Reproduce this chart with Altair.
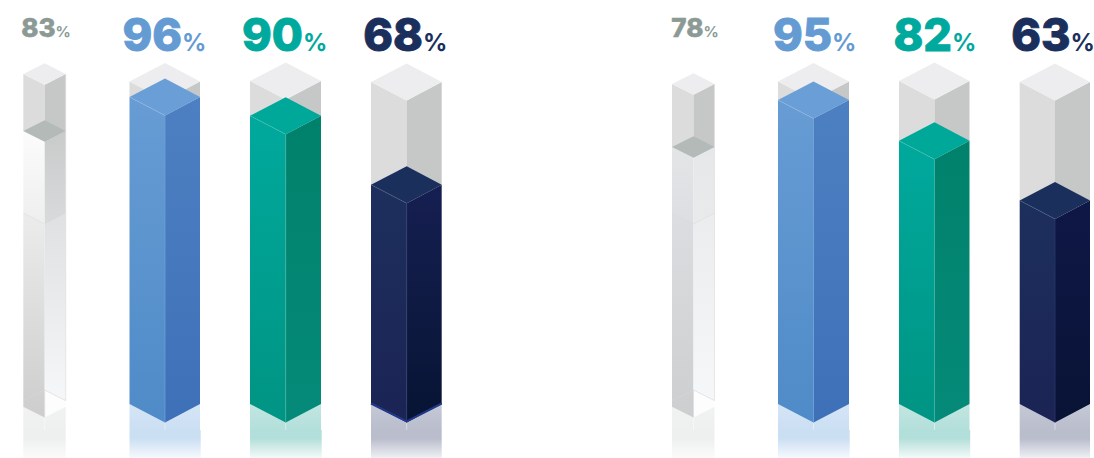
import altair as alt
import pandas as pd

# Percentages shown above each column, left to right.
values = [83, 96, 90, 68, 78, 95, 82, 63]
label_colors = ["#8b9a95", "#659bd3", "#00a99d", "#1b2f5c", "#8b9a95", "#659bd3", "#00a99d", "#1b2f5c"]
series = ["grey", "blue", "teal", "navy", "pale", "blue", "teal", "navy"]
column_left = [23.3, 129.5, 250, 371, 672, 778, 899, 1019.7]
column_mid = [44.7, 165, 285.7, 406.7, 693.5, 813.5, 934.5, 1055]
column_right = [65.7, 200, 321, 441.7, 714.5, 849, 969.5, 1090]
label_joint = [55.5, 182, 303, 423, 703.5, 832, 952, 1070.5]
tube_side_px = [74, 81.5, 81, 82, 84, 81.5, 81, 82]

W, H = 1094, 458
ZERO_PX, PX_PER_PCT = 398.0, 3.136


def units(px):
    return (ZERO_PX - px) / PX_PER_PCT


X = alt.X("x:Q", axis=None, scale=alt.Scale(domain=[0, W], range=[0, W], nice=False, zero=False))
Y = alt.Y("y:Q", axis=None, scale=alt.Scale(domain=[units(H), units(0)], nice=False, zero=False))


def grad(*stops):
    n = len(stops)
    parsed = [s if isinstance(s, tuple) else (i / (n - 1), s) for i, s in enumerate(stops)]
    return alt.Gradient(
        gradient="linear", x1=0, y1=0, x2=0, y2=1,
        stops=[alt.GradientStop(offset=o, color=c) for o, c in parsed],
    )


def poly(points, fill, opacity=1.0):
    df = pd.DataFrame(points, columns=["x", "y", "y2"])
    return (
        alt.Chart(df)
        .mark_area(fill=fill, opacity=opacity, line=False, interpolate="linear")
        .encode(x=X, y=Y, y2="y2:Q")
    )


def stroke(points, color, width=0.7, opacity=1.0):
    df = pd.DataFrame(points, columns=["x", "y"])
    df["order"] = range(len(df))
    return (
        alt.Chart(df)
        .mark_line(color=color, strokeWidth=width, opacity=opacity, interpolate="linear")
        .encode(x=X, y=Y, order="order:Q")
    )


palette = {
    "blue": dict(
        left=grad("#679cd4", "#4f8bc8"), right=grad("#4d80c2", "#3d70b7"), top="#6a9ed6",
        glow_top="#d5e5f6", glow="#cbdff3", fade="#f6f9fd", edge="#9dbfe4", joint="#6f9fd4",
    ),
    "teal": dict(
        left=grad("#00a99d", "#009483"), right=grad("#00816b", "#058a79"), top="#00a89a",
        glow_top="#c3e6e2", glow="#b3dfda", fade="#f3faf9", edge="#5cc3b9", joint="#3db3a5",
    ),
    "navy": dict(
        left=grad("#1d2f5d", "#1b2454"), right=grad("#161f52", "#071433"), top="#1b2f5c",
        glow_top="#c6c9d6", glow="#b9bdcc", fade="#eff0f4", edge="#55648c", joint="#2a3768",
    ),
    "grey": dict(
        upper_left=grad("#fcfcfd", "#eeeeef"), upper_right=grad("#c9caca", "#d9dadb"),
        lower_left=grad("#ececed", "#cdcdce"), lower_right=grad("#dfe0e2", "#f6f7f9"),
        top="#b3bab8", glow_top="#f1f2f2", glow="#eeefef", fade="#fbfbfb",
    ),
    "pale": dict(
        upper_left=grad("#e4e5e7", "#dddee1"), upper_right=grad("#e6e7e9", "#e9eaec"),
        lower_left=grad("#dcdde0", "#cdcecf"), lower_right=grad("#ebecee", "#f6f7f9"),
        top="#b3bab8", glow_top="#f1f2f2", glow="#eeefef", fade="#fbfbfb",
    ),
}

# The last navy column starts lower on the page, where its shaded side is already darker.
late_navy_right = grad("#0f1746", "#091335")

layers = []

for i, value in enumerate(values):
    kind = series[i]
    look = palette[kind]
    x0, xm, x1 = column_left[i], column_mid[i], column_right[i]
    slim = kind in ("grey", "pale")

    # Slim columns sit on a slightly taller scale and a shallower diamond.
    rise = (10.7 if slim else 18.5) / PX_PER_PCT
    side = 0.446 + 1.0204 * value if slim else value
    base = units(406.7 if slim else 404.0)
    tube = units(tube_side_px[i])
    mid_px = 430.0

    # Pale pool under the column, fading out towards the bottom.
    pad = 0.7 if kind in ("blue", "teal") else 0.0
    layers.append(poly([(x0, base, units(mid_px)), (x1, base, units(mid_px))], grad(look["glow_top"], look["glow"])))
    layers.append(poly(
        [(x0, units(mid_px), units(H)), (x1 + pad, units(mid_px), units(H))],
        grad((0.0, look["glow"]), (0.3, look["glow"]), (1.0, look["fade"])),
    ))
    layers.append(stroke([(xm, base - rise), (xm, units(mid_px))], "#ffffff", 1.0, 0.45))

    # Empty tube above the fill level.
    layers.append(poly([(x0, tube, side), (xm, tube - rise, side - rise)], "#dcdcdc"))
    layers.append(poly([(xm, tube - rise, side - rise), (x1, tube, side)], "#c6c8c7"))
    layers.append(poly([(x0, tube, tube), (xm, tube + rise, tube - rise), (x1, tube, tube)], "#edecee"))

    if slim:
        seam = units(213.0)
        seam_mid = units(224.0)
        floor_apex = units(390.0)
        floor_side = units(400.6)
        layers.append(poly([(x0, side, seam), (xm, side - rise, seam_mid)], look["upper_left"]))
        layers.append(poly([(xm, side - rise, seam_mid), (x1, side, seam)], look["upper_right"]))
        layers.append(poly([(x0, seam, base), (xm, seam_mid, base - rise)], look["lower_left"]))
        layers.append(poly([(xm, seam_mid, floor_apex), (x1, seam, floor_side)], look["lower_right"]))
        # See-through floor of the column.
        layers.append(poly([(xm, floor_apex, base - rise), (x1, floor_side, base)], "#fdfdfd"))
        layers.append(stroke([(x0, seam), (xm, seam_mid), (x1, seam)], "#c9cacb", 0.6, 0.6))
        layers.append(stroke([(xm, base - rise), (xm, floor_apex), (x1, floor_side)], "#d4d5d6", 0.6))
        layers.append(stroke([(x0, floor_side), (xm, floor_apex)], "#dcdddd", 0.5, 0.6))
        layers.append(stroke([(x1, tube), (x1, floor_side)], "#dcdddd", 0.8, 0.8))
    else:
        right_face = late_navy_right if i == 7 else look["right"]
        layers.append(poly([(x0, side, base), (xm, side - rise, base - rise)], look["left"]))
        layers.append(poly([(xm, side - rise, base - rise), (x1, side, base)], right_face))
        layers.append(stroke([(xm, side - rise), (xm, base - rise)], look["joint"], 0.8))

    layers.append(poly([(x0, side, side), (xm, side + rise, side - rise), (x1, side, side)], look["top"]))
    if not slim:
        layers.append(stroke([(x0, side), (xm, side - rise)], look["edge"], 0.6, 0.75))

    # Rim of the base on the first navy column.
    if i == 3:
        layers.append(stroke([(x0, units(403.5)), (xm, units(421.5)), (x1, units(403.5))], "#22388c", 2.0))

    # Value label: large digits with a smaller percent sign on one baseline.
    big = 45 if not slim else 26
    small = 24 if not slim else 15
    baseline = units(51 if not slim else 37)
    label = pd.DataFrame({"x": [label_joint[i]], "y": [baseline], "digits": [str(value)], "sign": ["%"]})
    layers.append(
        alt.Chart(label)
        .mark_text(font="Inter", fontSize=big, fontWeight=800, align="right", baseline="alphabetic",
                   color=label_colors[i], stroke=label_colors[i], strokeWidth=0.9 if not slim else 0.5)
        .encode(x=X, y=Y, text="digits:N")
    )
    layers.append(
        alt.Chart(label)
        .mark_text(font="Inter", fontSize=small, fontWeight=700, align="left", baseline="alphabetic",
                   color=label_colors[i])
        .encode(x=X, y=Y, text="sign:N")
    )

chart = (
    alt.layer(*layers)
    .properties(width=W, height=H, padding=0, background="#ffffff",
                autosize=alt.AutoSizeParams(type="none"))
    .configure_view(stroke=None)
)

chart.save("out.html", embed_options={"renderer": "svg", "actions": False})
